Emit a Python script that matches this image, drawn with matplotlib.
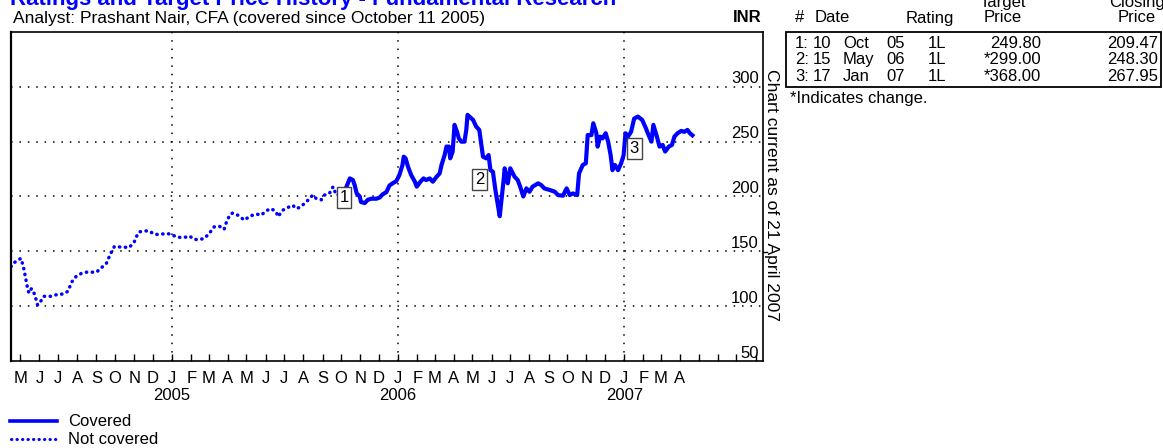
import matplotlib
matplotlib.use("Agg")
import matplotlib.pyplot as plt
import matplotlib.dates as mdates
from matplotlib.lines import Line2D
from matplotlib.patches import Rectangle
import pandas as pd

plt.rcParams['font.family'] = ['Liberation Sans', 'DejaVu Sans']

# price history before coverage (dotted)
nc_dates = ['2004-04-16', '2004-04-22', '2004-05-02', '2004-05-06', '2004-05-10', '2004-05-13',
            '2004-05-15', '2004-05-19', '2004-05-24', '2004-05-29', '2004-06-03', '2004-06-08',
            '2004-06-21', '2004-07-01', '2004-07-09', '2004-07-17', '2004-07-23', '2004-07-30',
            '2004-08-08', '2004-08-16', '2004-09-01', '2004-09-06', '2004-09-17', '2004-09-23',
            '2004-09-30', '2004-10-08', '2004-10-24', '2004-11-01', '2004-11-04', '2004-11-09',
            '2004-11-17', '2004-11-25', '2004-12-03', '2004-12-11', '2004-12-22', '2004-12-31',
            '2005-01-08', '2005-01-16', '2005-01-24', '2005-01-29', '2005-02-06', '2005-02-14',
            '2005-02-22', '2005-03-02', '2005-03-10', '2005-03-18', '2005-03-26', '2005-03-29',
            '2005-04-04', '2005-04-09', '2005-04-17', '2005-04-28', '2005-05-06', '2005-05-17',
            '2005-05-25', '2005-06-02', '2005-06-10', '2005-06-18', '2005-06-21', '2005-06-29',
            '2005-07-07', '2005-07-15', '2005-07-20', '2005-07-26', '2005-08-03', '2005-08-11',
            '2005-08-16', '2005-08-22', '2005-08-30', '2005-09-04', '2005-09-12', '2005-09-18',
            '2005-09-23', '2005-09-28', '2005-10-05']
nc_prices = [136, 140, 143.6, 136, 124.5, 115.5,
             112, 116, 111, 101, 104.5, 109,
             109, 111, 111, 113.6, 122, 127,
             130, 131, 131, 133.6, 139, 147,
             154.5, 154, 153.5, 158.6, 163, 167.7,
             168.6, 168.6, 165.6, 165.3, 166.3, 165.6,
             163, 162.6, 163, 164, 160.8, 160.8,
             161.7, 166.3, 172.3, 173, 170, 175.4,
             183, 185, 183, 178.4, 182, 184,
             183, 187, 189, 186, 181.6, 187.6,
             190, 192, 189, 190, 193.7, 198,
             201.3, 198, 197, 201.3, 202.8, 208.9,
             201.3, 202, 206]

# price history under coverage (solid)
cov_dates = ['2005-10-10', '2005-10-15', '2005-10-20', '2005-10-23', '2005-10-26', '2005-10-31',
             '2005-11-02', '2005-11-08', '2005-11-13', '2005-11-19', '2005-11-27', '2005-12-02',
             '2005-12-07', '2005-12-13', '2005-12-18', '2005-12-23', '2005-12-29', '2006-01-03',
             '2006-01-08', '2006-01-10', '2006-01-13', '2006-01-17', '2006-01-22', '2006-01-28',
             '2006-01-31', '2006-02-06', '2006-02-11', '2006-02-15', '2006-02-21', '2006-02-26',
             '2006-03-04', '2006-03-09', '2006-03-12', '2006-03-17', '2006-03-20', '2006-03-24',
             '2006-03-26', '2006-03-30', '2006-04-02', '2006-04-06', '2006-04-09', '2006-04-13',
             '2006-04-18', '2006-04-21', '2006-04-23', '2006-04-26', '2006-05-02', '2006-05-07',
             '2006-05-12', '2006-05-15', '2006-05-18', '2006-05-23', '2006-05-27', '2006-05-30',
             '2006-06-03', '2006-06-07', '2006-06-11', '2006-06-14', '2006-06-17', '2006-06-20',
             '2006-06-22', '2006-06-26', '2006-06-27', '2006-07-01', '2006-07-08', '2006-07-13',
             '2006-07-17', '2006-07-22', '2006-07-27', '2006-08-01', '2006-08-06', '2006-08-15',
             '2006-08-20', '2006-08-25', '2006-09-03', '2006-09-11', '2006-09-16', '2006-09-24',
             '2006-09-30', '2006-10-05', '2006-10-10', '2006-10-17', '2006-10-20', '2006-10-26',
             '2006-10-31', '2006-11-03', '2006-11-09', '2006-11-12', '2006-11-17', '2006-11-19',
             '2006-11-23', '2006-11-27', '2006-12-02', '2006-12-06', '2006-12-10', '2006-12-13',
             '2006-12-17', '2006-12-22', '2006-12-27', '2006-12-31', '2007-01-03', '2007-01-07',
             '2007-01-12', '2007-01-17', '2007-01-23', '2007-01-30', '2007-02-05', '2007-02-08',
             '2007-02-14', '2007-02-17', '2007-02-22', '2007-02-27', '2007-03-04', '2007-03-08',
             '2007-03-14', '2007-03-19', '2007-03-23', '2007-03-28', '2007-04-03', '2007-04-08',
             '2007-04-13', '2007-04-17', '2007-04-21']
cov_prices = [209.5, 216.5, 215, 210, 203, 200,
              195, 194, 197, 198, 198, 199,
              202, 204, 210, 212, 214, 219.6,
              228.7, 236.3, 234.8, 227, 219.6, 213.5,
              209, 213.5, 216.5, 215, 216.5, 213.5,
              218, 221, 228.7, 237.8, 245.5, 245.5,
              234.8, 241, 265.3, 259, 253, 250,
              250, 260.7, 274.4, 272.9, 269.8, 263.7,
              260.7, 248.3, 236.3, 234.8, 237.8, 224,
              222.6, 205.9, 192.1, 182, 198, 213.5,
              225.7, 213.5, 212, 225.7, 218, 215,
              209, 200, 207.4, 204.3, 209, 212,
              210.4, 207.4, 205.9, 204.3, 201.3, 200.7,
              207.4, 201.3, 202.8, 201.3, 221, 228.7,
              230.3, 256, 256, 266.8, 257.7, 245.5,
              254.6, 253, 257.7, 250, 237.8, 224,
              228.7, 224, 230.3, 237.8, 257.7, 254.6,
              259, 271, 272.9, 269.8, 262.2, 257.7,
              250, 265.3, 256, 245.5, 247, 241,
              245.5, 247, 254.6, 257.7, 259.8, 259,
              260.7, 257.7, 255.8]

# rating table
rating_no = ['1', '2', '3']
rating_dates = ['2005-10-10', '2006-05-15', '2007-01-17']
rating_day = ['10', '15', '17']
rating_mon = ['Oct', 'May', 'Jan']
rating_yr = ['05', '06', '07']
ratings = ['1L', '1L', '1L']
targets = ['249.80', '*299.00', '*368.00']
closes = [209.47, 248.30, 267.95]

yticks = [50, 100, 150, 200, 250, 300]
years = ['2005', '2006', '2007']

BLUE = '#0000ff'
W, H = 1163, 448

fig = plt.figure(figsize=(W / 100, H / 100), dpi=100)
ax = fig.add_axes([11 / W, 87 / H, 752 / W, 329 / H])

nc_x = pd.to_datetime(nc_dates)
cov_x = pd.to_datetime(cov_dates)
ax.plot(nc_x, nc_prices, color=BLUE, lw=2.5, linestyle=(0, (0.1, 1.6)),
        dash_capstyle='round', solid_capstyle='round')
ax.plot(cov_x, cov_prices, color=BLUE, lw=3.0, solid_joinstyle='round')

ax.set_xlim(pd.Timestamp('2004-04-16'), pd.Timestamp('2007-08-13'))
ax.set_ylim(50, 350)

# dotted grid
for v in yticks[1:]:
    ax.axhline(v, color='black', lw=1.1, linestyle=(0, (1, 4.5)), zorder=0)
for yr in years:
    ax.axvline(pd.Timestamp(yr + '-01-01'), color='black', lw=1.1,
               linestyle=(0, (1, 4.5)), zorder=0)

# y labels inside right edge
ax.set_yticks([])
for v in yticks:
    ax.annotate(str(v), xy=(1, v), xycoords=('axes fraction', 'data'),
                xytext=(-3, 2.5), textcoords='offset points',
                ha='right', va='baseline', fontsize=12)

# month ticks
ax.xaxis.set_major_locator(mdates.MonthLocator())
ax.xaxis.set_major_formatter(plt.NullFormatter())
ax.tick_params(axis='x', direction='in', length=5, width=1)
months = pd.date_range('2004-05-01', '2007-04-01', freq='MS')
for m in months:
    ax.text(mdates.date2num(m), -0.052, m.strftime('%b')[0],
            transform=ax.get_xaxis_transform(), ha='center', va='center', fontsize=12)
for yr in years:
    ax.text(mdates.date2num(pd.Timestamp(yr + '-01-01')), -0.104, yr,
            transform=ax.get_xaxis_transform(), ha='center', va='center', fontsize=12)

for s in ax.spines.values():
    s.set_linewidth(1.2)
ax.spines['left'].set_linewidth(1.6)

# rating markers
offsets = [(-2, -8), (-1, -26), (0, -19)]
for n, d, c, off in zip(rating_no, rating_dates, closes, offsets):
    ax.annotate(n, xy=(pd.Timestamp(d), c), xytext=off, textcoords='offset points',
                ha='center', va='center', fontsize=12,
                bbox=dict(boxstyle='square,pad=0.17', fc='white', ec='#444444', lw=1))

# small notch on the right edge
fig.add_artist(Line2D([763 / W, 767 / W], [1 - 252 / H] * 2, color='black', lw=1,
                      transform=fig.transFigure))

# header texts
fig.text(10 / W, 1 - 5.5 / H, 'Ratings and Target Price History - Fundamental Research',
         color=BLUE, fontsize=16, fontweight='bold', ha='left', va='baseline')
fig.text(13 / W, 1 - 18.5 / H, 'Analyst: Prashant Nair, CFA (covered since October 11 2005)',
         fontsize=12.5, ha='left', va='center')
fig.text(761 / W, 1 - 18 / H, 'INR', fontsize=12, fontweight='bold', ha='right', va='center')
fig.text(772 / W, 1 - 195 / H, 'Chart current as of 21 April 2007', rotation=-90,
         fontsize=12.6, ha='center', va='center')

# table
fig.text(800 / W, 1 - 18 / H, '#', fontsize=12, ha='center', va='center')
fig.text(832 / W, 1 - 18 / H, 'Date', fontsize=12, ha='center', va='center')
fig.text(930 / W, 1 - 18 / H, 'Rating', fontsize=12, ha='center', va='center')
fig.text(1003 / W, 1 - 18 / H, 'Price', fontsize=12, ha='center', va='center')
fig.text(1003 / W, 1 - 3 / H, 'Target', fontsize=12, ha='center', va='center')
fig.text(1137 / W, 1 - 18 / H, 'Price', fontsize=12, ha='center', va='center')
fig.text(1137 / W, 1 - 3 / H, 'Closing', fontsize=12, ha='center', va='center')
fig.add_artist(Rectangle((786 / W, 1 - 87 / H), 375 / W, 55 / H, transform=fig.transFigure,
                         fill=False, ec='black', lw=1.3))
for i in range(len(rating_no)):
    y = 1 - (43.5 + 16.3 * i) / H
    fig.text(795 / W, y, rating_no[i] + ':', fontsize=12, ha='left', va='center')
    fig.text(831 / W, y, rating_day[i], fontsize=12, ha='right', va='center')
    fig.text(843 / W, y, rating_mon[i], fontsize=12, ha='left', va='center')
    fig.text(886 / W, y, rating_yr[i], fontsize=12, ha='left', va='center')
    fig.text(937 / W, y, ratings[i], fontsize=12, ha='center', va='center')
    fig.text(1041 / W, y, targets[i], fontsize=12, ha='right', va='center')
    fig.text(1158 / W, y, f'{closes[i]:.2f}', fontsize=12, ha='right', va='center')
fig.text(790 / W, 1 - 99 / H, '*Indicates change.', fontsize=12, ha='left', va='center')

# legend
fig.add_artist(Line2D([10 / W, 57 / W], [1 - 421 / H] * 2, color=BLUE, lw=2.6,
                      transform=fig.transFigure))
fig.add_artist(Line2D([11 / W, 56 / W], [1 - 439 / H] * 2, color=BLUE, lw=2.2,
                      linestyle=(0, (0.1, 1.7)), dash_capstyle='round',
                      transform=fig.transFigure))
fig.text(68 / W, 1 - 421 / H, 'Covered', fontsize=12, ha='left', va='center')
fig.text(68 / W, 1 - 439 / H, 'Not covered', fontsize=12, ha='left', va='center')

fig.savefig('out.png', dpi=100)
